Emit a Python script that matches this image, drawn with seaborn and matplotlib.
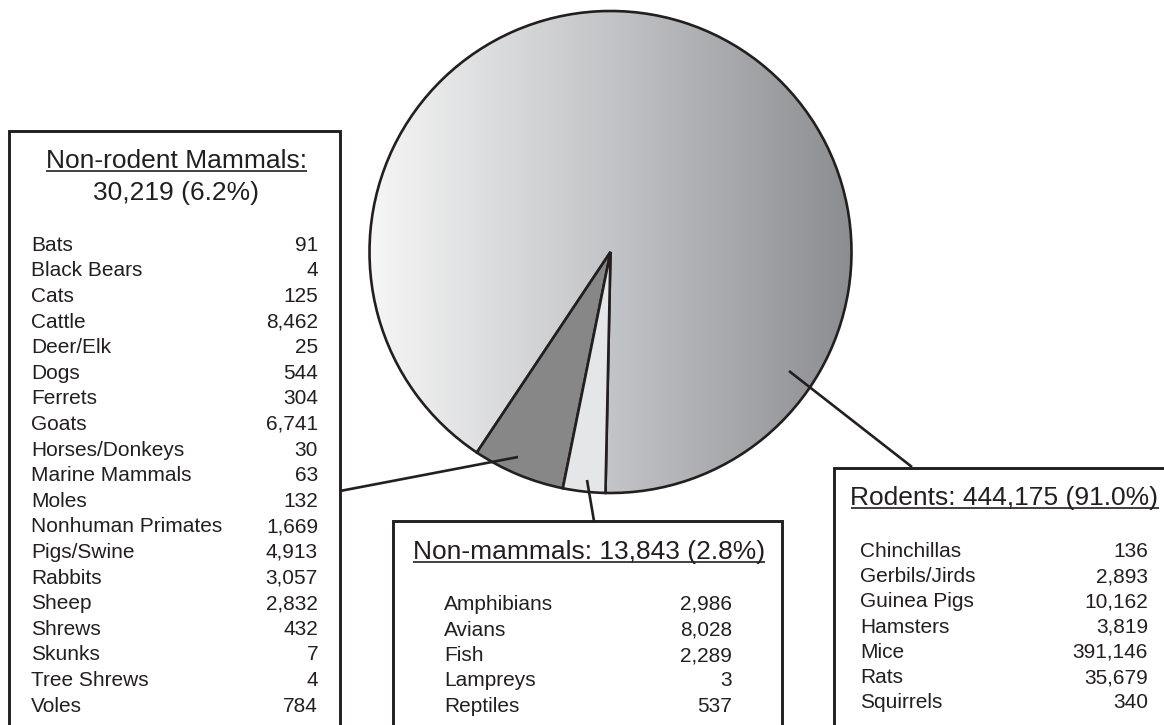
import numpy as np
import matplotlib
matplotlib.use("Agg")
import matplotlib.pyplot as plt
from matplotlib.patches import Rectangle
import seaborn as sns

# Data
groups = ["Rodents", "Non-rodent Mammals", "Non-mammals"]

rodent_names = ["Chinchillas", "Gerbils/Jirds", "Guinea Pigs", "Hamsters",
                "Mice", "Rats", "Squirrels"]
rodent_counts = [136, 2893, 10162, 3819, 391146, 35679, 340]

mammal_names = ["Bats", "Black Bears", "Cats", "Cattle", "Deer/Elk", "Dogs",
                "Ferrets", "Goats", "Horses/Donkeys", "Marine Mammals", "Moles",
                "Nonhuman Primates", "Pigs/Swine", "Rabbits", "Sheep", "Shrews",
                "Skunks", "Tree Shrews", "Voles"]
mammal_counts = [91, 4, 125, 8462, 25, 544, 304, 6741, 30, 63, 132, 1669,
                 4913, 3057, 2832, 432, 7, 4, 784]

nonmammal_names = ["Amphibians", "Avians", "Fish", "Lampreys", "Reptiles"]
nonmammal_counts = [2986, 8028, 2289, 3, 537]

totals = [sum(rodent_counts), sum(mammal_counts), sum(nonmammal_counts)]
grand = sum(totals)
pcts = [100 * t / grand for t in totals]

# Style
sns.set_theme(style="white")
plt.rcParams["font.family"] = ["Liberation Sans", "DejaVu Sans"]
INK = "#231f20"
W, H = 1164, 725

fig = plt.figure(figsize=(W / 100, H / 100), dpi=100)
ax = fig.add_axes([0, 0, 1, 1])

cx, cy, r = 610.5, H - 252, 241
wedges, _ = ax.pie(
    totals,
    colors=["#c0c1c4", "#878787", "#e5e6e8"],
    startangle=268.8,
    center=(cx, cy),
    radius=r,
    frame=True,
    wedgeprops=dict(edgecolor=INK, linewidth=1.9),
)

# horizontal gradient on the big slice
grad_cmap = sns.blend_palette(["#f6f6f6", "#c3c4c7", "#8c8d90"], as_cmap=True)
grad = np.linspace(0, 1, 256)[None, :]
im = ax.imshow(grad, cmap=grad_cmap, extent=(cx - r, cx + r, cy - r, cy + r),
               aspect="auto", zorder=0.5)
im.set_clip_path(wedges[0])
wedges[0].set_facecolor("none")

ax.set_xlim(0, W)
ax.set_ylim(0, H)
ax.axis("off")


def Y(py):
    return H - py


# boxes (open at the bottom, run off the figure)
box_kw = dict(fill=False, edgecolor=INK, linewidth=2.1, zorder=3)
ax.add_patch(Rectangle((9, Y(760)), 331, 760 - 131, **box_kw))
ax.add_patch(Rectangle((393, Y(760)), 389, 760 - 521, **box_kw))
ax.add_patch(Rectangle((834, Y(760)), 400, 760 - 468, **box_kw))

# leader lines
line_kw = dict(color=INK, linewidth=1.9, solid_capstyle="butt", zorder=4)
ax.plot([340, 518], [Y(491), Y(457)], **line_kw)
ax.plot([587, 594], [Y(480), Y(521)], **line_kw)
ax.plot([789, 912], [Y(371), Y(467)], **line_kw)

TITLE_FS = 19
ITEM_FS = 15
underlined = []


def title(x, py, s, underline=True):
    t = ax.text(x, Y(py), s, ha="center", va="baseline", fontsize=TITLE_FS,
                color=INK, zorder=5)
    if underline:
        underlined.append((t, py))


def items(names, counts, xl, xr, py0, step):
    for i, (n, c) in enumerate(zip(names, counts)):
        y = Y(py0 + i * step)
        ax.text(xl, y, n, ha="left", va="baseline", fontsize=ITEM_FS,
                color=INK, zorder=5)
        ax.text(xr, y, f"{c:,}", ha="right", va="baseline", fontsize=ITEM_FS,
                color=INK, zorder=5)


# Non-rodent mammals box
title(176, 168, f"{groups[1]}:")
title(176, 200, f"{totals[1]:,} ({pcts[1]:.1f}%)", underline=False)
items(mammal_names, mammal_counts, 31, 318, 250.7, 25.6)

# Non-mammals box
title(589, 559, f"{groups[2]}: {totals[2]:,} ({pcts[2]:.1f}%)")
items(nonmammal_names, nonmammal_counts, 444, 732, 610, 25.5)

# Rodents box
title(1004.5, 505, f"{groups[0]}: {totals[0]:,} ({pcts[0]:.1f}%)")
items(rodent_names, rodent_counts, 860, 1148, 557, 25.2)

# underline titles
fig.canvas.draw()
renderer = fig.canvas.get_renderer()
for t, py in underlined:
    bb = t.get_window_extent(renderer)
    ax.plot([bb.x0, bb.x1], [Y(py + 2.5)] * 2, color=INK, linewidth=1.2,
            solid_capstyle="butt", zorder=5)

fig.savefig("out.png", dpi=100)
